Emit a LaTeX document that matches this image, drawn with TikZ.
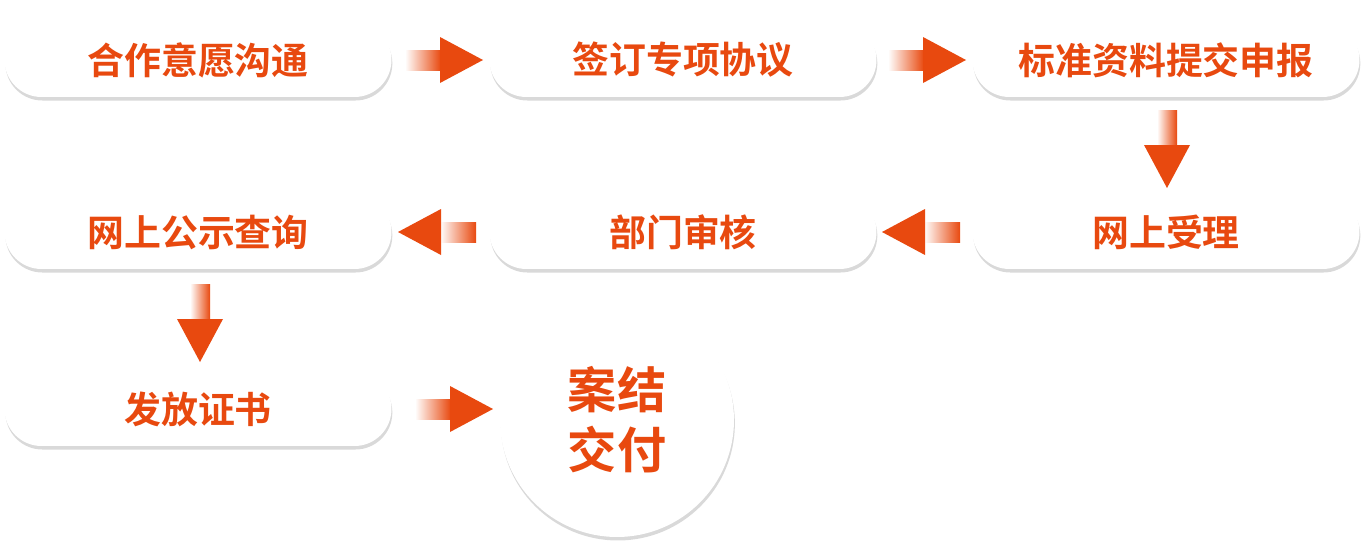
\documentclass[tikz,border=0pt]{standalone}
\usepackage{fontspec}
\newfontfamily\cjk{Noto Sans CJK SC Bold}
\usetikzlibrary{shadows}
\definecolor{flowred}{HTML}{E8490F}

\newcommand{\flowarrow}[2]{%
  \begin{scope}[shift={#1},rotate=#2]
    \shade[left color=white,right color=flowred] (0,-10) rectangle (36,10);
    \fill[flowred] (35,-23) -- (78,0) -- (35,23) -- cycle;
  \end{scope}}

\begin{document}
\begin{tikzpicture}[
    x=0.02cm,y=-0.02cm,
    pill/.style={
        fill=white,rounded corners=0.74cm,
        minimum width=7.74cm,minimum height=1.48cm,
        drop shadow={shadow xshift=0.5pt,shadow yshift=-2pt,opacity=.15,fill=black},
        text=flowred,font=\cjk\fontsize{21}{24}\selectfont
      },
    final/.style={
        circle,fill=white,minimum size=4.68cm,
        drop shadow={shadow xshift=0.5pt,shadow yshift=-2pt,opacity=.15,fill=black},
        text=flowred,align=center,font=\cjk\fontsize{28}{34}\selectfont
      }
  ]
  \useasboundingbox[fill=white] (0,0) rectangle (1366,551);

  % 第一行
  \node[pill] (talk) at (198,60) {合作意愿沟通};
  \node[pill] (sign) at (683,60) {签订专项协议};
  \node[pill] (apply) at (1166,60) {标准资料提交申报};
  % 第二行
  \node[pill] (accept) at (1166,232) {网上受理};
  \node[pill] (review) at (683,232) {部门审核};
  \node[pill] (public) at (198,232) {网上公示查询};
  % 第三行
  \node[pill] (cert) at (198,409) {发放证书};
  \node[final] (done) at (617,420) {案结\\交付};

  % 箭头
  \flowarrow{(405,60)}{0}
  \flowarrow{(888,60)}{0}
  \flowarrow{(1167,110)}{-90}
  \flowarrow{(960,232)}{180}
  \flowarrow{(476,232)}{180}
  \flowarrow{(200,284)}{-90}
  \flowarrow{(415,409)}{0}
\end{tikzpicture}
\end{document}
